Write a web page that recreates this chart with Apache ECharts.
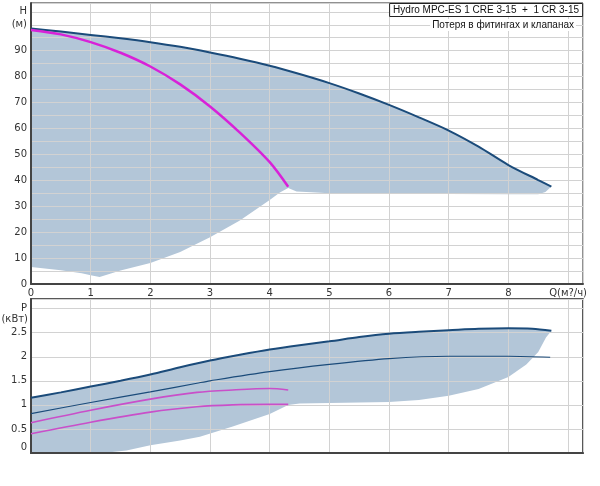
<!DOCTYPE html>
<html>
<head>
<meta charset="utf-8">
<script src="https://cdn.jsdelivr.net/npm/echarts@6/dist/echarts.min.js"></script>
<style>html,body{margin:0;padding:0;background:#fff}#c{width:600px;height:486px}</style>
</head>
<body>
<div id="c"></div>
<script>
// ---------- Data ----------
// Head chart, max speed curve (dark blue)
const hMaxQ = [0, 0.5, 1, 1.5, 2, 2.5, 3, 3.5, 4, 4.5, 5, 5.5, 6, 6.5, 7, 7.5, 8, 8.5, 8.72];
const hMaxH = [98.6, 97.4, 96.1, 94.8, 93.3, 91.5, 89.3, 86.9, 84.2, 81.0, 77.5, 73.5, 69.1, 64.3, 59.2, 53.0, 45.9, 40.1, 37.6];
// Head chart, single pump curve (magenta)
const hOneQ = [0, 0.5, 1, 1.5, 2, 2.5, 3, 3.5, 4, 4.31];
const hOneH = [98.0, 96.3, 93.3, 89.2, 83.9, 77.0, 68.5, 58.4, 47.0, 37.5];
// Head chart, lower boundary of the operating area
const hLowQ = [0, 0.5, 0.85, 1.0, 1.15, 1.5, 2.0, 2.5, 3.0, 3.5, 4.0, 4.17, 4.31, 4.45, 4.7, 5, 6, 7, 8, 8.5, 8.62, 8.72];
const hLowH = [6.6, 5.3, 4.1, 3.4, 2.7, 5.2, 8.1, 12.3, 18.0, 24.5, 32.4, 35.3, 37.0, 35.7, 35.4, 35.0, 34.8, 34.7, 34.6, 34.6, 35.5, 37.6];

// Power chart
const p1Q = [0, 0.5, 1, 1.5, 2, 2.5, 3, 3.5, 4, 4.5, 5, 5.5, 6, 6.5, 7, 7.5, 8, 8.4, 8.72];
const p1P = [1.15, 1.26, 1.38, 1.50, 1.63, 1.78, 1.92, 2.04, 2.15, 2.24, 2.32, 2.41, 2.48, 2.52, 2.55, 2.58, 2.59, 2.58, 2.54];
const p2Q = [0, 1, 2, 2.78, 3, 4, 5, 6, 7, 8, 8.7];
const p2P = [0.82, 1.05, 1.27, 1.45, 1.50, 1.69, 1.84, 1.96, 2.01, 2.01, 1.99];
const p3Q = [0, 1, 2, 2.78, 3.38, 4, 4.31];
const p3P = [0.63, 0.89, 1.12, 1.26, 1.31, 1.34, 1.31];
const p4Q = [0, 1, 2, 2.78, 3.38, 4, 4.31];
const p4P = [0.40, 0.64, 0.85, 0.96, 1.00, 1.01, 1.01];
const pLowQ = [0, 1.2, 1.6, 2.0, 2.5, 2.83, 3.38, 4.0, 4.31, 4.5, 5, 6, 6.5, 7, 7.5, 8, 8.3, 8.5, 8.63, 8.72];
const pLowP = [0, 0, 0.05, 0.16, 0.26, 0.34, 0.55, 0.81, 1.0, 1.03, 1.04, 1.06, 1.1, 1.19, 1.33, 1.58, 1.84, 2.1, 2.4, 2.54];

const titleText = 'Hydro MPC-ES 1 CRE 3-15  +  1 CR 3-15';
const subText = 'Потеря в фитингах и клапанах';
const qLabel = 'Q(м?/ч)';

// ---------- Build ----------
const zip = (a, b) => a.map((v, i) => [v, b[i]]);
const polyTop = zip(hMaxQ, hMaxH).concat(zip(hLowQ, hLowH).reverse());
const polyBot = zip(p1Q, p1P).concat(zip(pLowQ, pLowP).reverse());

const FILL = '#b3c6d8';
const DARK = '#1b4b7a';
const MAG = '#d822d8';
const MAG2 = '#c94fc9';
const GRIDC = '#d2d2d2';
const FONT = 'DejaVu Sans';

function xAx(idx, showLabels) {
  return {
    type: 'value', gridIndex: idx, min: 0, max: 9.25, interval: 1, z: 2,
    axisLine: {show: true, onZero: false, lineStyle: {color: '#444', width: 2}},
    axisTick: {show: false},
    splitLine: {show: true, lineStyle: {color: GRIDC, width: 1}},
    axisLabel: {
      show: showLabels, margin: 4, fontFamily: FONT, fontSize: 10, color: '#333',
      formatter: v => v === 9 ? qLabel : (Number.isInteger(v) ? String(v) : '')
    }
  };
}

const option = {
  animation: false,
  backgroundColor: '#fff',
  title: [
    {text: titleText, right: 17, top: 3, padding: [2, 4], borderColor: '#222', borderWidth: 1,
     backgroundColor: '#fff', z: 5,
     textStyle: {fontFamily: 'Liberation Sans', fontSize: 10, fontWeight: 'normal', color: '#111'}},
    {text: subText, right: 24, top: 19, padding: [1, 2], backgroundColor: '#fff', z: 5,
     textStyle: {fontFamily: 'Liberation Sans', fontSize: 10, fontWeight: 'normal', color: '#111'}}
  ],
  graphic: [
    {type: 'text', z: 5, style: {text: '(кВт)', x: 28, y: 319, align: 'right', verticalAlign: 'middle',
      font: '10px "DejaVu Sans"', fill: '#333'}}
  ],
  grid: [
    {left: 31, top: 3, right: 17, height: 281, show: true, borderColor: '#222', borderWidth: 1, backgroundColor: 'transparent'},
    {left: 31, top: 299, right: 17, height: 154, show: true, borderColor: '#222', borderWidth: 1.5, backgroundColor: 'transparent'}
  ],
  xAxis: [xAx(0, true), xAx(1, false)],
  yAxis: [
    {type: 'value', gridIndex: 0, min: 0, max: 108.4, interval: 5, z: 2,
     axisLine: {show: true, lineStyle: {color: '#444', width: 2}}, axisTick: {show: false},
     splitLine: {show: true, lineStyle: {color: GRIDC, width: 1}},
     axisLabel: {margin: 4, fontFamily: FONT, fontSize: 10, color: '#333',
       formatter: v => v === 105 ? 'H' : v === 100 ? '(м)' : (v % 10 === 0 ? String(v) : '')}},
    {type: 'value', gridIndex: 1, min: 0, max: 3.2, interval: 0.5, z: 2,
     axisLine: {show: true, lineStyle: {color: '#444', width: 2}}, axisTick: {show: false},
     splitLine: {show: true, lineStyle: {color: GRIDC, width: 1}},
     axisLabel: {margin: 4, fontFamily: FONT, fontSize: 10, color: '#333',
       formatter: v => v === 3 ? 'P' : v === 0 ? '{z|0}' : (Math.abs(v * 2 - Math.round(v * 2)) < 1e-9 ? String(v) : ''),
       rich: {z: {fontFamily: FONT, fontSize: 10, color: '#333', padding: [0, 0, 12, 0]}}}}
  ],
  series: [
    {type: 'custom', xAxisIndex: 0, yAxisIndex: 0, z: 1, silent: true, clip: true, data: [[0, 0]],
     renderItem: (params, api) => ({type: 'polygon', shape: {points: polyTop.map(p => api.coord(p))}, style: {fill: FILL}})},
    {type: 'custom', xAxisIndex: 1, yAxisIndex: 1, z: 1, silent: true, clip: true, data: [[0, 0]],
     renderItem: (params, api) => ({type: 'polygon', shape: {points: polyBot.map(p => api.coord(p))}, style: {fill: FILL}})},
    {type: 'line', xAxisIndex: 0, yAxisIndex: 0, z: 3, data: zip(hMaxQ, hMaxH), smooth: 0.3, symbol: 'none',
     lineStyle: {color: DARK, width: 2}},
    {type: 'line', xAxisIndex: 0, yAxisIndex: 0, z: 3, data: zip(hOneQ, hOneH), smooth: 0.3, symbol: 'none',
     lineStyle: {color: MAG, width: 2.5}},
    {type: 'line', xAxisIndex: 1, yAxisIndex: 1, z: 3, data: zip(p1Q, p1P), smooth: 0.3, symbol: 'none',
     lineStyle: {color: DARK, width: 2}},
    {type: 'line', xAxisIndex: 1, yAxisIndex: 1, z: 3, data: zip(p2Q, p2P), smooth: 0.3, symbol: 'none',
     lineStyle: {color: DARK, width: 1.2}},
    {type: 'line', xAxisIndex: 1, yAxisIndex: 1, z: 3, data: zip(p3Q, p3P), smooth: 0.3, symbol: 'none',
     lineStyle: {color: MAG2, width: 1.6}},
    {type: 'line', xAxisIndex: 1, yAxisIndex: 1, z: 3, data: zip(p4Q, p4P), smooth: 0.3, symbol: 'none',
     lineStyle: {color: MAG2, width: 1.6}}
  ]
};

const chart = echarts.init(document.getElementById('c'), null, {renderer: 'canvas'});
chart.setOption(option);
</script>
</body>
</html>
